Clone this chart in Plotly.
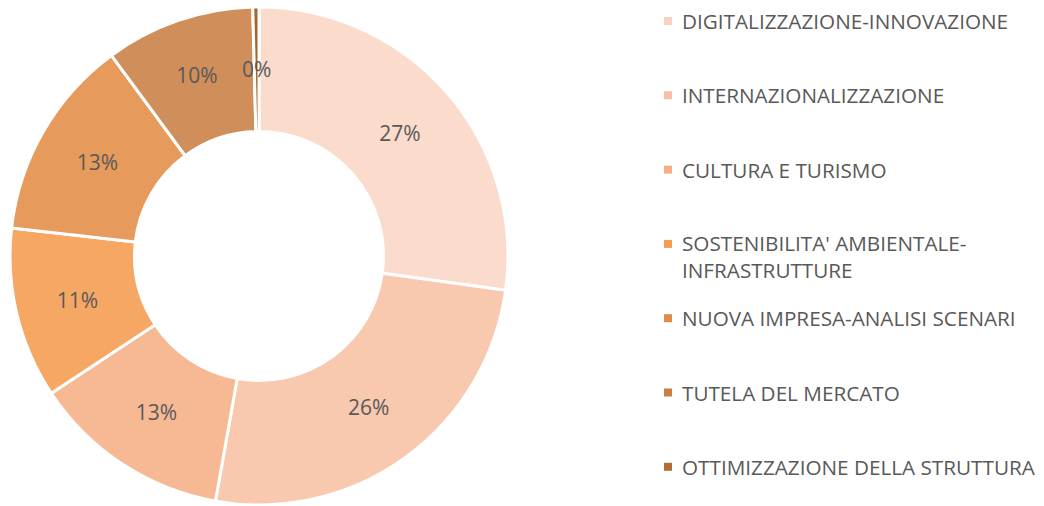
import math
import plotly.graph_objects as go

labels = [
    "DIGITALIZZAZIONE-INNOVAZIONE",
    "INTERNAZIONALIZZAZIONE",
    "CULTURA E TURISMO",
    "SOSTENIBILITA' AMBIENTALE-INFRASTRUTTURE",
    "NUOVA IMPRESA-ANALISI SCENARI",
    "TUTELA DEL MERCATO",
    "OTTIMIZZAZIONE DELLA STRUTTURA",
]
values = [27.2, 25.6, 12.9, 11.1, 13.1, 9.7, 0.4]
colors = ["#FADBCC", "#F8C8AF", "#F6B993", "#F6A764", "#E69A5B", "#D08E5A", "#A8642C"]
legend_colors = ["#F9D2C1", "#F7C0A5", "#F5AE86", "#F39C52", "#E28C4A", "#C97E42", "#B36C33"]

W, H = 1044, 506
TEXT_COLOR = "#595959"
FONT = "Open Sans"

# pie geometry (pixels)
px0, px1, py0, py1 = 8, 510, 7, 505
HOLE = 0.5

total = sum(values)
small = [v / total < 0.01 for v in values]
textpos = ["none" if s else "inside" for s in small]

fig = go.Figure()
fig.add_trace(go.Pie(
    labels=labels,
    values=values,
    hole=HOLE,
    sort=False,
    direction="clockwise",
    rotation=0,
    marker=dict(colors=colors, line=dict(color="white", width=3)),
    texttemplate="%{percent:.0%}",
    textposition=textpos,
    insidetextorientation="horizontal",
    textfont=dict(family=FONT, size=21, color=TEXT_COLOR),
    domain=dict(x=[px0 / W, px1 / W], y=[1 - py1 / H, 1 - py0 / H]),
    showlegend=False,
    hoverinfo="label+percent",
))

annotations = []
# labels of slices too thin for inside text: placed at the ring middle
cx, cy = (px0 + px1) / 2, (py0 + py1) / 2
R = min(px1 - px0, py1 - py0) / 2
rmid = R * (1 + HOLE) / 2
cum = 0
for v, s in zip(values, small):
    mid = (cum + v / 2) / total * 2 * math.pi
    cum += v
    if s:
        x = cx + rmid * math.sin(mid)
        y = cy - rmid * math.cos(mid)
        annotations.append(dict(
            x=x / W, y=1 - y / H, xref="paper", yref="paper",
            xanchor="center", yanchor="middle", showarrow=False,
            text=f"{round(v / total * 100)}%",
            font=dict(family=FONT, size=21, color=TEXT_COLOR),
        ))

# custom legend (spacing as in the reference)
shapes = []
x_text = 680
x_mark = 664
for i, (lab, col) in enumerate(zip(labels, legend_colors)):
    y_first = 21 + 74.3 * i
    txt = lab.replace("AMBIENTALE-", "AMBIENTALE-<br>")
    nlines = txt.count("<br>") + 1
    y_c = y_first + (nlines - 1) * 25 / 2
    annotations.append(dict(
        x=x_text / W, y=1 - y_c / H, xref="paper", yref="paper",
        xanchor="left", yanchor="middle", align="left", showarrow=False,
        text=txt, font=dict(family=FONT, size=20.7, color=TEXT_COLOR),
    ))
    shapes.append(dict(
        type="rect", xref="paper", yref="paper",
        x0=x_mark / W, x1=(x_mark + 8) / W,
        y0=1 - (y_first + 4) / H, y1=1 - (y_first - 4) / H,
        fillcolor=col, line=dict(width=0),
    ))

fig.update_layout(
    width=W, height=H,
    margin=dict(l=0, r=0, t=0, b=0),
    paper_bgcolor="white",
    plot_bgcolor="white",
    annotations=annotations,
    shapes=shapes,
)

fig.write_html(
    "out.html",
    config={"displayModeBar": False},
    post_script="document.body.style.margin='0';document.body.style.overflow='hidden';",
)
